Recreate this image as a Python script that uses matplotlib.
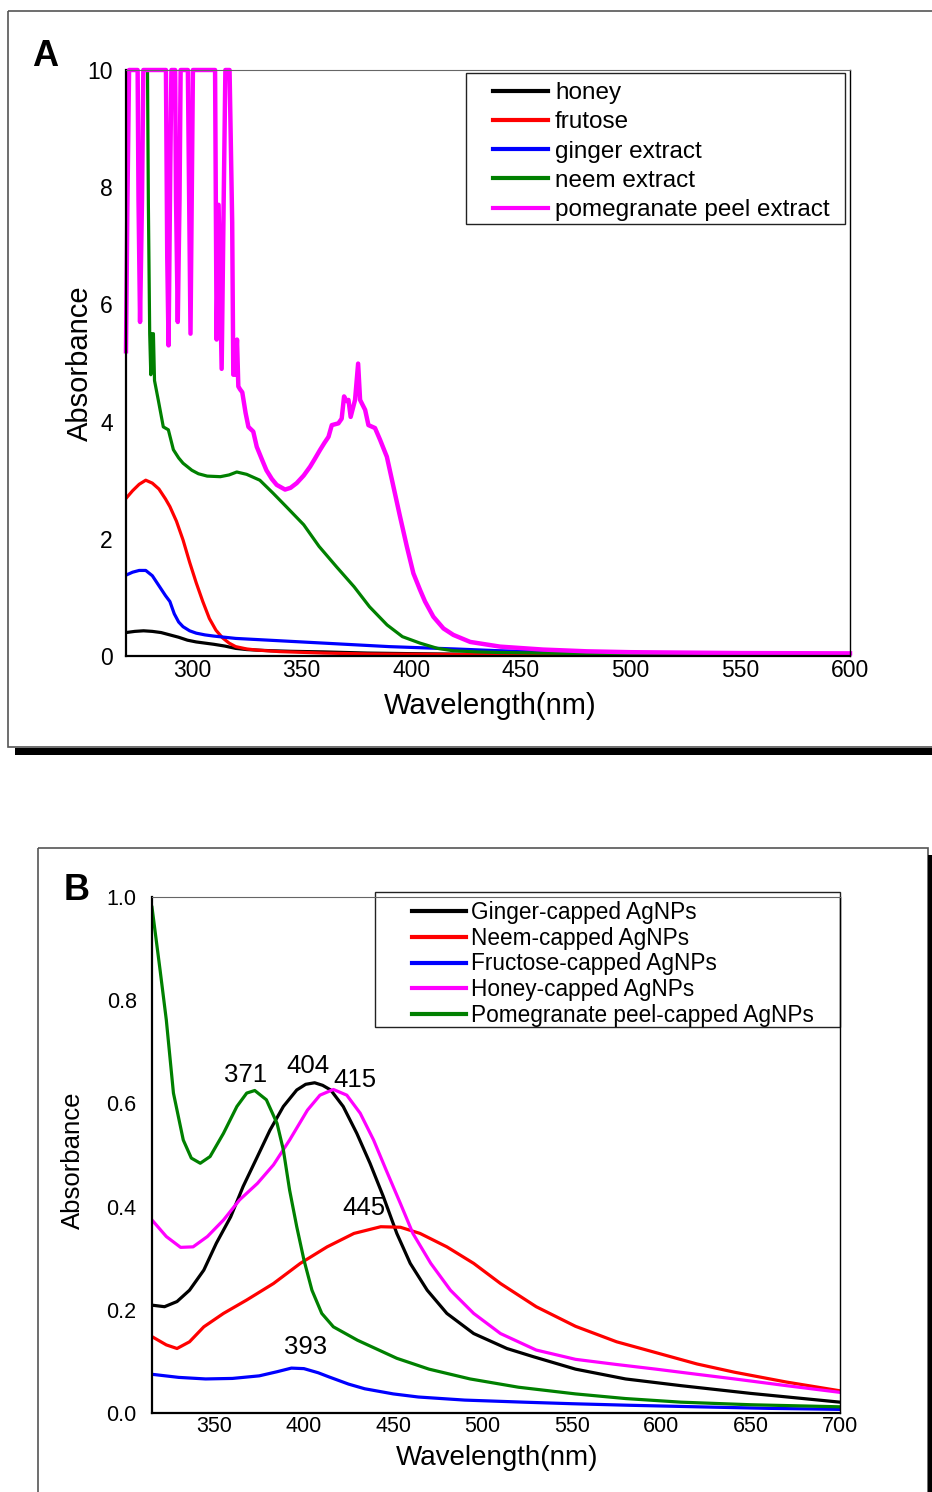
import matplotlib
matplotlib.use('Agg')
import matplotlib.pyplot as plt
from matplotlib.patches import Rectangle

plt.rcParams['font.family'] = ['Liberation Sans', 'DejaVu Sans']

# ---- panel A: extracts ----
honey_wl = [270, 274, 278, 282, 286, 290, 294, 298, 302, 306, 310, 315, 320, 325, 330, 336, 345, 360, 380, 400, 425, 450, 500, 550, 600]
honey_abs = [0.40, 0.42, 0.43, 0.42, 0.40, 0.36, 0.32, 0.27, 0.24, 0.22, 0.20, 0.17, 0.13, 0.11, 0.10, 0.09, 0.08, 0.07, 0.05, 0.04, 0.03, 0.025, 0.02, 0.015, 0.015]

frutose_wl = [270, 273, 276, 279, 282, 285, 288, 290, 293, 296, 299, 302, 305, 308, 311, 314, 317, 320, 325, 330, 340, 360, 380, 400, 450, 500, 600]
frutose_abs = [2.69, 2.82, 2.93, 3.0, 2.95, 2.85, 2.68, 2.55, 2.3, 1.98, 1.6, 1.25, 0.93, 0.64, 0.44, 0.31, 0.22, 0.16, 0.12, 0.1, 0.075, 0.05, 0.035, 0.03, 0.02, 0.012, 0.01]

ginger_wl = [270, 273, 276, 279, 282, 285, 288, 290, 292, 294, 296, 299, 302, 306, 310, 315, 320, 330, 345, 360, 375, 390, 405, 420, 440, 470, 500, 550, 600]
ginger_abs = [1.38, 1.43, 1.46, 1.46, 1.37, 1.2, 1.03, 0.93, 0.72, 0.58, 0.5, 0.43, 0.39, 0.36, 0.34, 0.32, 0.30, 0.28, 0.25, 0.22, 0.19, 0.16, 0.14, 0.12, 0.09, 0.06, 0.05, 0.03, 0.02]

neem_wl = [279.8, 280.2, 280.8, 281.3, 281.8, 282.5, 283.0, 284.7, 287, 289.3, 291.6, 294, 296, 300, 303, 307, 313, 317, 320.5, 325, 331, 337, 343, 351, 358, 366, 374, 381, 389, 396, 404, 412, 419, 430, 440, 470, 500, 550, 600]
neem_abs = [10.0, 7.7, 5.5, 4.8, 5.5, 5.5, 4.7, 4.37, 3.91, 3.86, 3.52, 3.38, 3.29, 3.17, 3.11, 3.07, 3.06, 3.09, 3.14, 3.1, 3.0, 2.78, 2.55, 2.24, 1.87, 1.52, 1.18, 0.84, 0.53, 0.33, 0.22, 0.13, 0.09, 0.07, 0.06, 0.045, 0.04, 0.03, 0.02]

pome_wl = [270.0, 270.6, 271.4, 275.3, 275.7, 276.4, 277.3, 277.9, 288.2, 288.8, 289.4, 290.2, 290.7,
           292.4, 292.8, 293.6, 294.4, 294.9, 298.2, 299.4, 300.5, 310.6, 311.3, 312.2, 313.6, 314.5, 315.3,
           317.2, 318.4, 318.9, 319.8, 320.6, 321.2, 322.0, 323.0, 324.5, 325.8, 328.0, 329.6, 332.0, 334.0,
           336.5, 338.7, 342.5, 345.0, 347.8, 351.0, 353.9, 356.0, 358.5, 360.5, 362.3, 363.8, 366.8, 368.3,
           369.4, 370.5, 371.4, 372.4, 374.4, 375.8, 376.7, 379.0, 380.5, 383.5, 385.8, 388.9, 391.9, 394.9,
           398.0, 401.0, 404.0, 406.3, 410.1, 414.7, 419.2, 426.9, 440.5, 460, 480, 500, 550, 600]
pome_abs = [5.2, 7.6, 10.0, 10.0, 7.8, 5.7, 7.8, 10.0, 10.0, 6.8, 5.3, 8.4, 10.0,
            10.0, 7.8, 5.7, 7.8, 10.0, 10.0, 5.5, 10.0, 10.0, 5.4, 7.7, 4.9, 7.7, 10.0,
            10.0, 7.4, 4.8, 4.8, 5.4, 4.6, 4.55, 4.5, 4.15, 3.91, 3.83, 3.57, 3.35, 3.17,
            3.02, 2.92, 2.84, 2.87, 2.95, 3.08, 3.23, 3.36, 3.52, 3.64, 3.74, 3.94, 3.97, 4.05,
            4.43, 4.35, 4.37, 4.08, 4.37, 4.99, 4.37, 4.2, 3.94, 3.89, 3.69, 3.40, 2.89, 2.38,
            1.87, 1.41, 1.13, 0.93, 0.67, 0.47, 0.36, 0.24, 0.16, 0.11, 0.08, 0.065, 0.05, 0.045]

labels_A = ['honey', 'frutose', 'ginger extract', 'neem extract', 'pomegranate peel extract']

# ---- panel B: capped AgNPs ----
gingerB_wl = [315, 322, 329, 336, 344, 351, 359, 366, 374, 381, 388.5, 396, 401, 406, 410.5, 415, 422, 429.6, 437, 444.5, 452, 459.5, 469, 480, 495, 513.6, 528.5, 552, 580, 611, 650, 700]
gingerB_abs = [0.209, 0.206, 0.216, 0.238, 0.277, 0.329, 0.38, 0.439, 0.497, 0.548, 0.594, 0.626, 0.637, 0.640, 0.635, 0.626, 0.594, 0.542, 0.484, 0.419, 0.348, 0.29, 0.238, 0.193, 0.154, 0.125, 0.109, 0.085, 0.066, 0.053, 0.038, 0.021]

neemB_wl = [315, 323, 329, 336, 344, 355, 368, 383, 398, 413, 428, 443, 454, 465, 480, 495, 510, 530, 552, 575, 597, 620, 641, 670, 700]
neemB_abs = [0.148, 0.132, 0.125, 0.138, 0.167, 0.193, 0.219, 0.251, 0.29, 0.322, 0.348, 0.361, 0.36, 0.348, 0.322, 0.29, 0.251, 0.206, 0.168, 0.138, 0.117, 0.095, 0.079, 0.06, 0.043]

fructB_wl = [315, 330, 345, 360, 375, 385, 393, 400, 408, 414, 425, 434, 450, 464, 490, 523, 550, 582, 620, 660, 700]
fructB_abs = [0.075, 0.069, 0.066, 0.067, 0.072, 0.08, 0.087, 0.086, 0.078, 0.07, 0.056, 0.047, 0.037, 0.031, 0.025, 0.021, 0.018, 0.015, 0.012, 0.009, 0.007]

honeyB_wl = [315, 323, 331, 338, 346, 355, 364, 374, 383, 392, 402, 409, 416.5, 424, 431.5, 439, 446, 454, 461, 471, 482, 495, 510, 530, 552, 575, 597, 620, 641, 670, 700]
honeyB_abs = [0.374, 0.342, 0.321, 0.322, 0.342, 0.374, 0.413, 0.445, 0.481, 0.529, 0.587, 0.616, 0.627, 0.616, 0.581, 0.529, 0.471, 0.406, 0.348, 0.29, 0.238, 0.193, 0.154, 0.122, 0.104, 0.094, 0.085, 0.075, 0.066, 0.053, 0.04]

pomeB_wl = [315, 319.5, 323, 327, 332.5, 337, 342, 347.5, 355, 362.5, 368, 372.5, 379, 385, 388.5, 392, 396, 400, 404.5, 410, 416.5, 430, 452, 470, 493, 520, 552, 580, 611, 650, 700]
pomeB_abs = [0.98, 0.859, 0.762, 0.62, 0.529, 0.494, 0.484, 0.497, 0.542, 0.594, 0.62, 0.625, 0.607, 0.561, 0.51, 0.432, 0.361, 0.297, 0.238, 0.193, 0.167, 0.141, 0.106, 0.085, 0.066, 0.05, 0.037, 0.028, 0.021, 0.016, 0.012]

labels_B = ['Ginger-capped AgNPs', 'Neem-capped AgNPs', 'Fructose-capped AgNPs',
            'Honey-capped AgNPs', 'Pomegranate peel-capped AgNPs']
peaks_B = ['371', '404', '415', '445', '393']
peak_pos = [(367.6, 0.655), (402.3, 0.672), (428.7, 0.645), (433.7, 0.397), (400.7, 0.128)]

W, H = 932, 1492
fig = plt.figure(figsize=(W / 100, H / 100), dpi=100)


def box(l, t, r, b):
    return [l / W, 1 - b / H, (r - l) / W, (b - t) / H]


# background layer in pixel coords for the panel frames
bg = fig.add_axes([0, 0, 1, 1])
bg.set_xlim(0, W)
bg.set_ylim(H, 0)
bg.axis('off')
bg.add_patch(Rectangle((8, 11), 940, 736, fill=False, ec='#555555', lw=1.2))
bg.add_patch(Rectangle((15, 748), 930, 7, fc='black', ec='none'))
bg.add_patch(Rectangle((38, 848), 890, 700, fill=False, ec='#555555', lw=1.2))
bg.add_patch(Rectangle((928, 855), 8, 700, fc='black', ec='none'))
bg.add_patch(Rectangle((466, 73), 379, 151, fill=False, ec='#222222', lw=1.0))
bg.add_patch(Rectangle((375, 892), 465, 135, fill=False, ec='#222222', lw=1.0))
bg.text(45, 56, 'A', fontsize=26, fontweight='bold', ha='center', va='center')
bg.text(77, 891, 'B', fontsize=26, fontweight='bold', ha='center', va='center')

colors = ['black', '#ff0000', '#0000ff', '#008000', '#ff00ff']


def style(ax, ypad):
    for s in ['left', 'bottom']:
        ax.spines[s].set_linewidth(1.6)
        ax.spines[s].set_color('black')
    ax.spines['top'].set_linewidth(0.8)
    ax.spines['top'].set_color('#666666')
    ax.spines['right'].set_linewidth(1.0)
    ax.spines['right'].set_color('black')
    ax.set_facecolor('none')
    ax.tick_params(axis='both', length=0)
    ax.tick_params(axis='y', pad=ypad)
    ax.tick_params(axis='x', pad=2)


# ---- A ----
axA = fig.add_axes(box(126, 70, 850, 656))
series_A = [(honey_wl, honey_abs), (frutose_wl, frutose_abs), (ginger_wl, ginger_abs),
            (neem_wl, neem_abs), (pome_wl, pome_abs)]
for (x, y), c, lab in zip(series_A, colors, labels_A):
    lw = 3.2 if c == '#ff00ff' else 2.3
    axA.plot(x, y, color=c, lw=lw, label=lab, clip_on=(c != '#ff00ff'))
axA.set_xlim(270, 600)
axA.set_ylim(0, 10)
axA.set_xticks([300, 350, 400, 450, 500, 550, 600])
axA.set_yticks([0, 2, 4, 6, 8, 10])
style(axA, 9.5)
for t in axA.get_xticklabels() + axA.get_yticklabels():
    t.set_fontsize(16.5)
axA.set_xlabel('Wavelength(nm)', fontsize=21, va='center')
axA.xaxis.set_label_coords(0.503, -0.0853)
axA.set_ylabel('Absorbance', fontsize=21, va='center')
axA.yaxis.set_label_coords(-0.0635, 0.5)
legA = axA.legend(loc='upper left', bbox_to_anchor=(493 / W, 1 - 82 / H), bbox_transform=fig.transFigure,
                  frameon=False, fontsize=17.5, borderpad=0, borderaxespad=0, handlelength=2.26,
                  handletextpad=0.29, labelspacing=0.3)
for ln in legA.get_lines():
    ln.set_linewidth(3)

# ---- B ----
axB = fig.add_axes(box(152, 897, 840, 1413))
series_B = [(gingerB_wl, gingerB_abs), (neemB_wl, neemB_abs), (fructB_wl, fructB_abs),
            (honeyB_wl, honeyB_abs), (pomeB_wl, pomeB_abs)]
colors_B = ['black', '#ff0000', '#0000ff', '#ff00ff', '#008000']
for (x, y), c, lab in zip(series_B, colors_B, labels_B):
    axB.plot(x, y, color=c, lw=2.3, label=lab)
axB.set_xlim(315, 700)
axB.set_ylim(0, 1.0)
axB.set_xticks([350, 400, 450, 500, 550, 600, 650, 700])
axB.set_yticks([0, 0.2, 0.4, 0.6, 0.8, 1.0])
axB.set_yticklabels(['0.0', '0.2', '0.4', '0.6', '0.8', '1.0'])
style(axB, 11)
for t in axB.get_xticklabels() + axB.get_yticklabels():
    t.set_fontsize(15.5)
axB.set_xlabel('Wavelength(nm)', fontsize=20, va='center')
axB.xaxis.set_label_coords(0.5015, -0.0872)
axB.set_ylabel('Absorbance', fontsize=18.5, va='center')
axB.yaxis.set_label_coords(-0.1148, 0.49)
for txt, (px, py) in zip(peaks_B, peak_pos):
    axB.text(px, py, txt, fontsize=18.5, ha='center', va='center')
legB = axB.legend(loc='upper left', bbox_to_anchor=(412 / W, 1 - 901 / H), bbox_transform=fig.transFigure,
                  frameon=False, fontsize=16.3, borderpad=0, borderaxespad=0, handlelength=2.4,
                  handletextpad=0.22, labelspacing=0.12)
for ln in legB.get_lines():
    ln.set_linewidth(3)

fig.savefig('out.png', dpi=100)
